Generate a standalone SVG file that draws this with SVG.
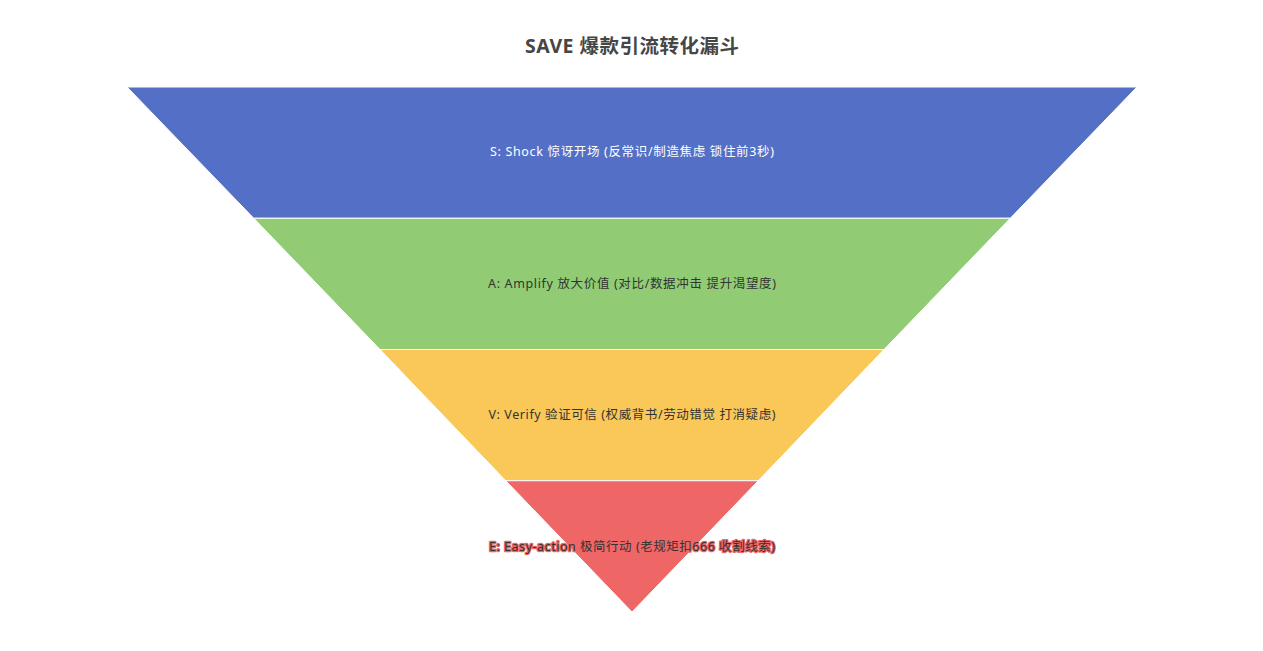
<svg xmlns="http://www.w3.org/2000/svg" width="1263" height="651" viewBox="0 0 1263 651">
<style>
.title{font-family:"Noto Sans","Noto Sans CJK SC",sans-serif;font-size:19.5px;font-weight:bold;fill:#464646}
.seg{stroke:#fff;stroke-width:1}
.lbl{font-family:"Noto Sans","Noto Sans CJK SC",sans-serif;font-size:12.5px;text-anchor:middle;dominant-baseline:central}
.w{fill:#fff}
.d{fill:#333}
.e{fill:#333;stroke:#ee6666;stroke-width:2.5;paint-order:stroke;stroke-linejoin:round}
</style>
<rect width="1263" height="651" fill="#fff"/>
<text class="title" x="632" y="53" text-anchor="middle" textLength="214" lengthAdjust="spacing">SAVE 爆款引流转化漏斗</text>
<g id="node-s">
<polygon class="seg" fill="#5470c6" points="127,87 1137,87 1010.25,218.25 253.75,218.25"/>
<text class="lbl w" x="632" y="151" textLength="284" lengthAdjust="spacing">S: Shock 惊讶开场 (反常识/制造焦虑 锁住前3秒)</text>
</g>
<g id="node-a">
<polygon class="seg" fill="#91cc75" points="253.75,218.25 1010.25,218.25 884,349.5 380,349.5"/>
<text class="lbl d" x="632" y="283" textLength="288" lengthAdjust="spacing">A: Amplify 放大价值 (对比/数据冲击 提升渴望度)</text>
</g>
<g id="node-v">
<polygon class="seg" fill="#fac858" points="380,349.5 884,349.5 758.25,480.75 505.75,480.75"/>
<text class="lbl d" x="632" y="414" textLength="287" lengthAdjust="spacing">V: Verify 验证可信 (权威背书/劳动错觉 打消疑虑)</text>
</g>
<g id="node-e">
<polygon class="seg" fill="#ee6666" points="505.75,480.75 758.25,480.75 632,612 632,612"/>
<text class="lbl e" x="632" y="546" textLength="286" lengthAdjust="spacing">E: Easy-action 极简行动 (老规矩扣666 收割线索)</text>
</g>
<g id="connectors"></g>
</svg>
